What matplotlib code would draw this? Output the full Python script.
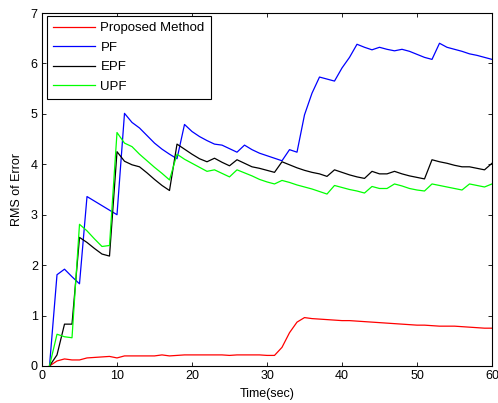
import matplotlib
matplotlib.use("Agg")
import matplotlib.pyplot as plt

time_s = list(range(1, 61))

proposed = [0, 0.10, 0.14, 0.12, 0.12, 0.16, 0.17, 0.18, 0.19, 0.16,
            0.20, 0.20, 0.20, 0.20, 0.20, 0.22, 0.20, 0.21, 0.22, 0.22,
            0.22, 0.22, 0.22, 0.22, 0.21, 0.22, 0.22, 0.22, 0.22, 0.21,
            0.21, 0.37, 0.66, 0.87, 0.96, 0.94, 0.93, 0.92, 0.91, 0.90,
            0.90, 0.89, 0.88, 0.87, 0.86, 0.85, 0.84, 0.83, 0.82, 0.81,
            0.81, 0.80, 0.79, 0.79, 0.79, 0.78, 0.77, 0.76, 0.75, 0.75]

pf = [0, 1.81, 1.92, 1.77, 1.63, 3.36, 3.27, 3.18, 3.09, 3.00,
      5.01, 4.83, 4.72, 4.57, 4.42, 4.30, 4.20, 4.11, 4.79, 4.65,
      4.55, 4.47, 4.40, 4.38, 4.31, 4.24, 4.38, 4.29, 4.22, 4.17,
      4.12, 4.07, 4.29, 4.24, 4.98, 5.41, 5.73, 5.69, 5.65, 5.91,
      6.12, 6.38, 6.32, 6.27, 6.32, 6.28, 6.25, 6.28, 6.24, 6.18,
      6.12, 6.08, 6.40, 6.32, 6.28, 6.24, 6.19, 6.16, 6.12, 6.08]

epf = [0, 0.22, 0.83, 0.83, 2.55, 2.45, 2.33, 2.22, 2.18, 4.25,
       4.06, 3.99, 3.95, 3.83, 3.70, 3.58, 3.48, 4.40, 4.30, 4.20,
       4.11, 4.05, 4.12, 4.04, 3.97, 4.09, 4.02, 3.95, 3.92, 3.88,
       3.84, 4.05, 3.99, 3.93, 3.88, 3.84, 3.81, 3.76, 3.89, 3.84,
       3.79, 3.75, 3.72, 3.86, 3.81, 3.81, 3.86, 3.81, 3.77, 3.74,
       3.71, 4.09, 4.05, 4.02, 3.98, 3.95, 3.95, 3.92, 3.89, 4.02]

upf = [0, 0.63, 0.58, 0.56, 2.81, 2.68, 2.52, 2.37, 2.39, 4.63,
       4.42, 4.35, 4.20, 4.07, 3.94, 3.82, 3.69, 4.20, 4.10, 4.02,
       3.94, 3.86, 3.89, 3.82, 3.75, 3.89, 3.83, 3.77, 3.70, 3.65,
       3.61, 3.68, 3.64, 3.59, 3.55, 3.51, 3.46, 3.41, 3.58, 3.54,
       3.50, 3.47, 3.43, 3.56, 3.52, 3.52, 3.61, 3.57, 3.52, 3.49,
       3.47, 3.61, 3.58, 3.55, 3.52, 3.49, 3.61, 3.58, 3.55, 3.61]

labels = ["Proposed Method", "PF", "EPF", "UPF"]
colors = ["#ff0000", "#0000ff", "#000000", "#00ff00"]
x_ticks = [0, 10, 20, 30, 40, 50, 60]
y_ticks = [0, 1, 2, 3, 4, 5, 6, 7]

plt.rcParams['font.family'] = ['Liberation Sans', 'DejaVu Sans']

fig = plt.figure(figsize=(4.98, 4.03), dpi=100)
ax = fig.add_axes([42/498, (403-366)/403, 450/498, 353/403])

for series, lab, col in zip([proposed, pf, epf, upf], labels, colors):
    ax.plot(time_s, series, color=col, lw=0.9, label=lab)

ax.set_xlim(0, 60)
ax.set_ylim(0, 7)
ax.set_xticks(x_ticks)
ax.set_yticks(y_ticks)
ax.tick_params(direction='in', top=True, right=True, length=3, width=0.6,
               labelsize=9, pad=3)
for s in ax.spines.values():
    s.set_linewidth(0.8)

ax.set_xlabel("Time(sec)", fontsize=9, labelpad=4)
ax.set_ylabel("RMS of Error", fontsize=9, labelpad=6)

leg = ax.legend(loc='upper left', bbox_to_anchor=(5/450, 1 - 3/353),
                fontsize=9.5, frameon=True, fancybox=False,
                edgecolor='black', framealpha=1, handlelength=3.2,
                handletextpad=0.4, labelspacing=0.55, borderaxespad=0,
                borderpad=0.45)
leg.get_frame().set_linewidth(0.8)

fig.savefig("out.png", dpi=100)
